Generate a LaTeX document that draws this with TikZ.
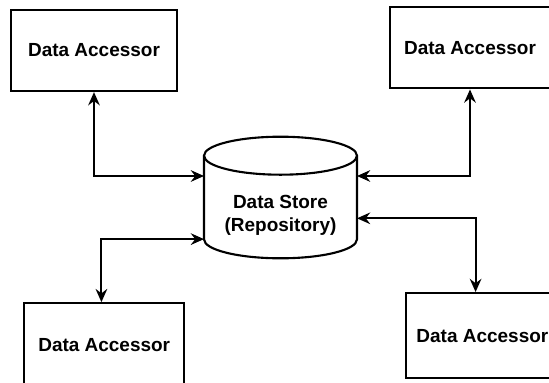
\documentclass[tikz,border=0pt]{standalone}
\usepackage{fontspec}
\setmainfont{Liberation Sans}
\usetikzlibrary{arrows.meta}
\tikzset{
  every picture/.style={font=\fontsize{13.5}{16.6}\selectfont\bfseries, line width=1.5pt},
  box/.style={draw, rectangle, minimum width=#1, minimum height=2.03cm, inner sep=0pt},
  box/.default=4cm,
  storebody/.style={rectangle, minimum width=3.825cm, minimum height=2.09cm, inner sep=0pt, outer sep=0pt},
  storetext/.style={align=center, inner sep=0pt},
  arrow/.style={{Stealth[length=3.3mm, width=2.9mm, inset=1.1mm]}-{Stealth[length=3.3mm, width=2.9mm, inset=1.1mm]}},
}

\begin{document}
\begin{tikzpicture}
  \useasboundingbox (0,0) rectangle (13.725,-9.575);
  % the shared store in the middle
  \node[storebody] (store) at (7.0125,-4.9375) {};
  \draw (store.north) ellipse [x radius=1.9125cm, y radius=0.475cm];
  \draw (store.north west) -- (store.south west)
    arc [start angle=180, end angle=360, x radius=1.9125cm, y radius=0.475cm] -- (store.north east);
  \node[storetext] (storename) at ([yshift=-4.4mm]store.center) {Data Store\\(Repository)};
  % the four accessors round it
  \node[box=4.15cm] (accTL) at (2.35,-1.2625) {Data Accessor};
  \node[box=4cm] (accTR) at (11.75,-1.195) {Data Accessor};
  \node[box=4.01cm, minimum height=2.1cm] (accBL) at (2.606,-8.63) {Data Accessor};
  \node[box=3.825cm, minimum height=2.125cm] (accBR) at (12.06,-8.39) {Data Accessor};
  \draw[arrow] (accTL.south) |- ([yshift=5.375mm]store.west);
  \draw[arrow] (accTR.south) |- ([yshift=5.375mm]store.east);
  \draw[arrow] ([xshift=-1.7mm]accBR.north) |- ([yshift=-5.2mm]store.east);
  \draw[arrow] ([xshift=-0.7mm]accBL.north) |- ([yshift=-10.4mm]store.west);
\end{tikzpicture}
\end{document}
